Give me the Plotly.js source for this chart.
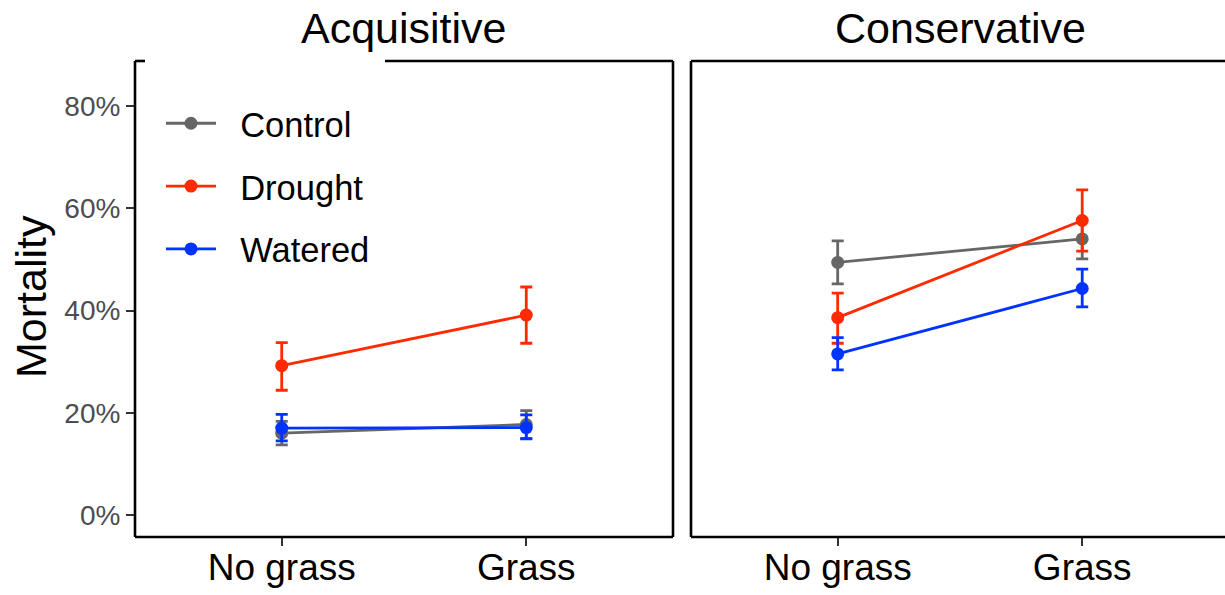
<!DOCTYPE html>
<html>
<head>
<meta charset="utf-8">
<script src="https://cdn.plot.ly/plotly-3.0.1.min.js"></script>
<style>
  html, body { margin: 0; padding: 0; background: #ffffff; }
  #chart { width: 1225px; height: 595px; }
</style>
</head>
<body>
<div id="chart"></div>
<script>
// Grass treatment levels on the x axis
const treatments = ['No grass', 'Grass'];
const seriesNames = ['Control', 'Drought', 'Watered'];
const seriesColors = ['#666666', '#ff2a00', '#0033ff'];
const panelTitles = ['Acquisitive', 'Conservative'];
const yTickVals = [0, 20, 40, 60, 80];

// Mortality (%) with lower / upper error-bar limits — Acquisitive species
const acqControl = [16.0, 17.7];
const acqControlLo = [13.7, 15.0];
const acqControlHi = [18.3, 20.4];
const acqDrought = [29.2, 39.1];
const acqDroughtLo = [24.4, 33.6];
const acqDroughtHi = [33.7, 44.6];
const acqWatered = [17.0, 17.1];
const acqWateredLo = [14.5, 14.9];
const acqWateredHi = [19.7, 19.6];

// Mortality (%) — Conservative species
const conControl = [49.4, 54.0];
const conControlLo = [45.2, 50.1];
const conControlHi = [53.6, 57.9];
const conDrought = [38.6, 57.6];
const conDroughtLo = [33.6, 51.6];
const conDroughtHi = [43.4, 63.6];
const conWatered = [31.5, 44.3];
const conWateredLo = [28.4, 40.7];
const conWateredHi = [34.7, 48.1];

const panels = [
  { xa: 'x', ya: 'y', data: [[acqControl, acqControlLo, acqControlHi], [acqDrought, acqDroughtLo, acqDroughtHi], [acqWatered, acqWateredLo, acqWateredHi]] },
  { xa: 'x2', ya: 'y2', data: [[conControl, conControlLo, conControlHi], [conDrought, conDroughtLo, conDroughtHi], [conWatered, conWateredLo, conWateredHi]] }
];

// small gap between legend key and label
const PAD = '\u00a0\u00a0';

const traces = [];
panels.forEach((p, pi) => {
  p.data.forEach((s, si) => {
    const [v, lo, hi] = s;
    traces.push({
      type: 'scatter',
      mode: 'lines+markers',
      x: treatments,
      y: v,
      xaxis: p.xa,
      yaxis: p.ya,
      name: PAD + seriesNames[si],
      legendgroup: seriesNames[si],
      showlegend: pi === 0,
      line: { color: seriesColors[si], width: 2.8 },
      marker: { color: seriesColors[si], size: 13 },
      error_y: {
        type: 'data',
        symmetric: false,
        array: hi.map((h, i) => h - v[i]),
        arrayminus: v.map((m, i) => m - lo[i]),
        color: seriesColors[si],
        thickness: 2.8,
        width: 6
      },
      hoverinfo: 'x+y+name'
    });
  });
});

const FONT = 'Liberation Sans, Arial, Helvetica, sans-serif';
const yRange = [-4.3, 88.8];

const xCommon = {
  type: 'category',
  categoryorder: 'array',
  categoryarray: treatments,
  showgrid: false,
  zeroline: false,
  showline: false,
  ticks: 'outside',
  ticklen: 8,
  tickwidth: 2,
  tickcolor: '#333333',
  ticklabelstandoff: -10,
  tickfont: { family: FONT, size: 37, color: '#000000' }
};

const layout = {
  width: 1225,
  height: 595,
  paper_bgcolor: '#ffffff',
  plot_bgcolor: '#ffffff',
  margin: { l: 135, r: 0, t: 61, b: 58 },
  font: { family: FONT },
  showlegend: true,
  legend: {
    x: (161 - 135) / 1090,
    y: 0.93,
    xanchor: 'left',
    yanchor: 'top',
    bgcolor: 'rgba(255,255,255,0)',
    font: { family: FONT, size: 34.5, color: '#000000' },
    itemwidth: 50,
    traceorder: 'grouped',
    tracegroupgap: 15
  },
  xaxis: Object.assign({}, xCommon, { domain: [0, 538 / 1090], range: [-0.6, 1.6], anchor: 'y' }),
  xaxis2: Object.assign({}, xCommon, { domain: [556 / 1090, 1], range: [-0.6, 1.584], anchor: 'y2' }),
  yaxis: {
    domain: [0, 1],
    range: yRange,
    tickvals: yTickVals,
    ticktext: yTickVals.map(v => v + '%'),
    showgrid: false,
    zeroline: false,
    showline: false,
    ticks: 'outside',
    ticklen: 8,
    tickwidth: 2,
    tickcolor: '#333333',
    tickfont: { family: FONT, size: 28, color: '#4d4d4d' },
    anchor: 'x'
  },
  yaxis2: {
    domain: [0, 1],
    range: yRange,
    showgrid: false,
    zeroline: false,
    showline: false,
    showticklabels: false,
    ticks: '',
    anchor: 'x2'
  },
  shapes: [
    // Acquisitive panel border (top edge interrupted behind the legend)
    { type: 'line', xref: 'x domain', yref: 'y domain', x0: 0, x1: 0, y0: 0, y1: 1, line: { color: '#000', width: 2.6 } },
    { type: 'line', xref: 'x domain', yref: 'y domain', x0: 1, x1: 1, y0: 0, y1: 1, line: { color: '#000', width: 2.6 } },
    { type: 'line', xref: 'x domain', yref: 'y domain', x0: 0, x1: 1, y0: 0, y1: 0, line: { color: '#000', width: 2.6 } },
    { type: 'line', xref: 'x domain', yref: 'y domain', x0: 0, x1: 10 / 538, y0: 1, y1: 1, line: { color: '#000', width: 2.6 } },
    { type: 'line', xref: 'x domain', yref: 'y domain', x0: 250 / 538, x1: 1, y0: 1, y1: 1, line: { color: '#000', width: 2.6 } },
    // Conservative panel border
    { type: 'line', xref: 'x2 domain', yref: 'y2 domain', x0: 0, x1: 0, y0: 0, y1: 1, line: { color: '#000', width: 2.6 } },
    { type: 'line', xref: 'x2 domain', yref: 'y2 domain', x0: 0, x1: 1.02, y0: 0, y1: 0, line: { color: '#000', width: 2.6 } },
    { type: 'line', xref: 'x2 domain', yref: 'y2 domain', x0: 0, x1: 1.02, y0: 1, y1: 1, line: { color: '#000', width: 2.6 } }
  ],
  annotations: [
    { text: panelTitles[0], xref: 'x domain', yref: 'paper', x: 0.5, y: 1, yshift: 33, xanchor: 'center', yanchor: 'middle', showarrow: false, font: { family: FONT, size: 43, color: '#000' } },
    { text: panelTitles[1], xref: 'x2 domain', yref: 'paper', x: 269 / 534, y: 1, yshift: 33, xanchor: 'center', yanchor: 'middle', showarrow: false, font: { family: FONT, size: 43, color: '#000' } },
    { text: 'Mortality', xref: 'paper', yref: 'paper', x: (31 - 135) / 1090, y: (537 - 297) / 476, xanchor: 'center', yanchor: 'middle', textangle: -90, showarrow: false, font: { family: FONT, size: 43, color: '#000' } }
  ]
};

Plotly.newPlot('chart', traces, layout, { displayModeBar: false, staticPlot: true });
</script>
</body>
</html>
